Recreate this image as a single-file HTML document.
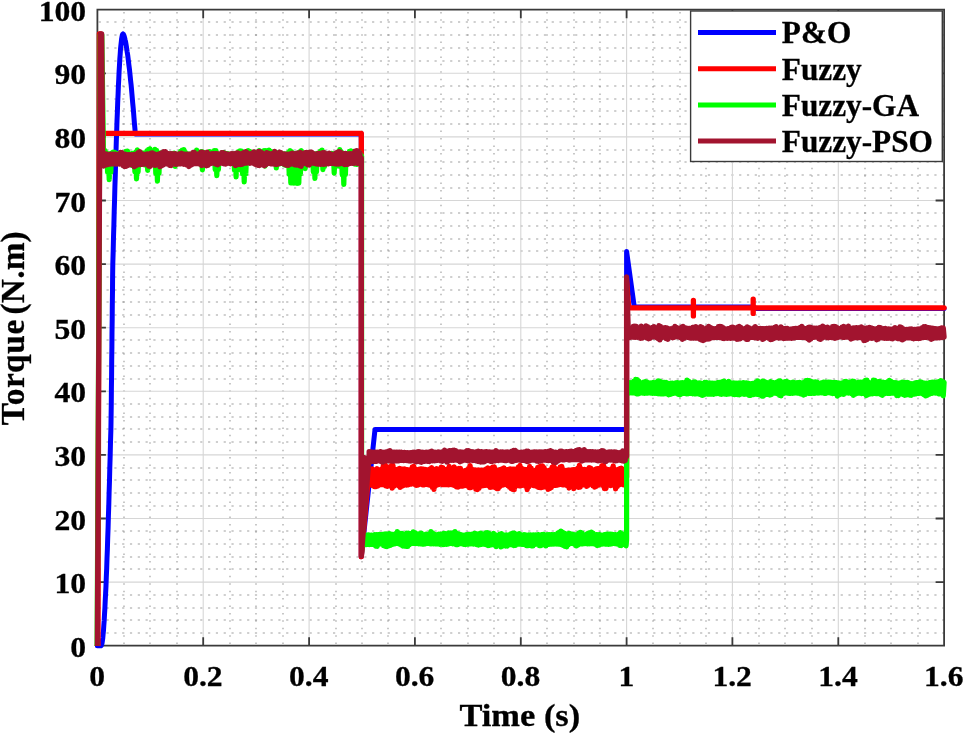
<!DOCTYPE html>
<html lang="en"><head><meta charset="utf-8"><title>Torque</title>
<style>
html,body{margin:0;padding:0;background:#fff;}
body{width:963px;height:733px;overflow:hidden;}
svg{display:block;}
text{font-family:"Liberation Serif","Times New Roman",serif;font-weight:bold;fill:#000;stroke:#000;stroke-width:0.3px;}
.tk{font-size:30.3px;}
.lg{font-size:30.8px;}
.lb{font-size:32.3px;}
.yl{font-size:33.4px;word-spacing:-3.9px;}
</style></head><body>
<svg width="963" height="733" viewBox="0 0 963 733">
<rect width="963" height="733" fill="#fff"/>
<path d="M124,9.7V645.7M150,9.7V645.7M177,9.7V645.7M230,9.7V645.7M256,9.7V645.7M283,9.7V645.7M336,9.7V645.7M362,9.7V645.7M388,9.7V645.7M441,9.7V645.7M468,9.7V645.7M494,9.7V645.7M547,9.7V645.7M574,9.7V645.7M600,9.7V645.7M653,9.7V645.7M680,9.7V645.7M706,9.7V645.7M759,9.7V645.7M785,9.7V645.7M812,9.7V645.7M865,9.7V645.7M891,9.7V645.7M918,9.7V645.7" stroke="#606060" stroke-width="1.15" stroke-dasharray="1.5 5.92" stroke-dashoffset="-2.2" fill="none" opacity="0.6"/>
<path d="M97.4,633H944.1M97.4,620H944.1M97.4,608H944.1M97.4,595H944.1M97.4,569H944.1M97.4,557H944.1M97.4,544H944.1M97.4,531H944.1M97.4,506H944.1M97.4,493H944.1M97.4,480H944.1M97.4,468H944.1M97.4,442H944.1M97.4,429H944.1M97.4,417H944.1M97.4,404H944.1M97.4,379H944.1M97.4,366H944.1M97.4,353H944.1M97.4,340H944.1M97.4,315H944.1M97.4,302H944.1M97.4,290H944.1M97.4,277H944.1M97.4,251H944.1M97.4,239H944.1M97.4,226H944.1M97.4,213H944.1M97.4,188H944.1M97.4,175H944.1M97.4,162H944.1M97.4,150H944.1M97.4,124H944.1M97.4,111H944.1M97.4,99H944.1M97.4,86H944.1M97.4,61H944.1M97.4,48H944.1M97.4,35H944.1M97.4,22H944.1" stroke="#606060" stroke-width="1.15" stroke-dasharray="2.2 5.61" stroke-dashoffset="-1.3" fill="none" opacity="0.6"/>
<path d="M203.2,9.7V645.7M309.1,9.7V645.7M414.9,9.7V645.7M520.8,9.7V645.7M626.6,9.7V645.7M732.4,9.7V645.7M838.3,9.7V645.7M97.4,582.1H944.1M97.4,518.5H944.1M97.4,454.9H944.1M97.4,391.3H944.1M97.4,327.7H944.1M97.4,264.1H944.1M97.4,200.5H944.1M97.4,136.9H944.1M97.4,73.3H944.1" stroke="#d6d6d6" stroke-width="1.1" fill="none"/>
<path d="M97.4,9.7H944.1V645.7H97.4ZM97.4,645.7v-8.5M97.4,9.7v8.5M203.2,645.7v-8.5M203.2,9.7v8.5M309.1,645.7v-8.5M309.1,9.7v8.5M414.9,645.7v-8.5M414.9,9.7v8.5M520.8,645.7v-8.5M520.8,9.7v8.5M626.6,645.7v-8.5M626.6,9.7v8.5M732.4,645.7v-8.5M732.4,9.7v8.5M838.3,645.7v-8.5M838.3,9.7v8.5M944.1,645.7v-8.5M944.1,9.7v8.5M97.4,645.7h8.5M944.1,645.7h-8.5M97.4,582.1h8.5M944.1,582.1h-8.5M97.4,518.5h8.5M944.1,518.5h-8.5M97.4,454.9h8.5M944.1,454.9h-8.5M97.4,391.3h8.5M944.1,391.3h-8.5M97.4,327.7h8.5M944.1,327.7h-8.5M97.4,264.1h8.5M944.1,264.1h-8.5M97.4,200.5h8.5M944.1,200.5h-8.5M97.4,136.9h8.5M944.1,136.9h-8.5M97.4,73.3h8.5M944.1,73.3h-8.5M97.4,9.7h8.5M944.1,9.7h-8.5" stroke="#3a3a3a" stroke-width="1.8" fill="none"/>
<polyline fill="none" stroke="#0000ff" stroke-width="5.0" stroke-linejoin="round" stroke-linecap="round" points="97.4,645.7 101.0,645.7 101.4,645.4 101.7,644.4 102.1,642.9 102.4,640.6 102.8,637.8 103.1,634.4 103.5,630.3 103.8,625.6 104.2,620.4 104.5,614.5 104.9,608.1 105.2,601.2 105.6,593.7 106.0,585.6 106.3,577.1 106.7,568.1 107.0,558.5 107.4,548.6 107.7,538.2 108.1,527.4 108.4,516.2 108.8,504.6 109.1,492.7 109.5,480.5 109.8,468.0 110.2,455.2 110.5,442.2 110.9,429.0 111.1,415.6 111.3,402.0 111.4,388.3 111.6,374.5 111.7,360.7 111.9,346.7 112.0,332.8 112.2,318.9 112.3,305.0 112.5,291.2 112.6,277.5 112.8,264.0 113.2,250.6 113.5,237.3 113.9,224.3 114.2,211.6 114.6,199.0 114.9,186.8 115.3,174.9 115.6,163.4 116.0,152.2 116.3,141.4 116.7,131.0 117.0,121.0 117.4,111.5 117.7,102.5 118.1,93.9 118.4,85.9 118.8,78.4 119.1,71.4 119.5,65.0 119.8,59.2 120.2,53.9 120.5,49.3 120.9,45.2 121.3,41.8 121.6,38.9 122.0,36.7 122.3,35.1 122.7,34.2 123.0,33.9 123.4,34.3 123.9,35.3 124.3,36.5 124.7,38.1 125.1,39.9 125.6,41.9 126.0,44.2 126.4,46.6 126.8,49.3 127.2,52.1 127.7,55.1 128.1,58.3 128.5,61.6 128.9,65.1 129.4,68.8 129.8,72.5 130.2,76.5 130.6,80.6 131.1,84.8 131.5,89.1 131.9,93.6 132.3,98.3 132.7,103.0 133.2,107.9 133.6,112.9 134.0,118.0 134.4,123.2 134.9,128.6 135.3,134.0 361.3,134.0 361.3,556.7 375.0,429.5 626.6,429.5 626.6,251.4 634.3,307.1 753.6,307.1 756.2,308.4 944.1,308.4"/>
<clipPath id="cb"><rect x="0" y="0" width="963" height="646"/></clipPath><g clip-path="url(#cb)">
<polyline fill="none" stroke="#ff0000" stroke-width="5.3" stroke-linejoin="round" stroke-linecap="round" points="97.4,645.7 98.0,645.7 99.4,33.9 100.6,33.9 102.2,133.4 361.3,133.4 361.3,556.7 368.9,470.8 368.9,469.3 369.7,485.2 370.5,469.2 371.3,483.8 372.1,469.0 372.9,485.5 373.7,469.9 374.5,486.7 375.3,469.7 376.1,486.6 376.9,468.7 377.7,486.1 378.5,469.9 379.3,485.0 380.1,469.9 380.9,484.6 381.7,468.9 382.5,484.5 383.3,465.7 384.1,484.6 384.9,464.4 385.8,485.8 386.6,466.3 387.4,486.4 388.2,468.4 389.0,485.3 389.8,469.1 390.6,486.0 391.4,465.5 392.2,488.2 393.0,465.5 393.8,486.3 394.6,469.5 395.4,484.9 396.2,469.7 397.0,484.5 397.8,469.1 398.6,485.9 399.4,468.5 400.2,487.4 401.0,468.9 401.8,486.4 402.6,469.3 403.4,485.7 404.2,469.0 405.0,484.8 405.8,469.3 406.6,485.0 407.5,469.6 408.3,484.8 409.1,470.1 409.9,484.1 410.7,469.7 411.5,484.0 412.3,466.8 413.1,483.7 413.9,466.5 414.7,484.4 415.5,469.8 416.3,485.4 417.1,469.7 417.9,485.1 418.7,469.5 419.5,484.1 420.3,468.8 421.1,484.0 421.9,469.0 422.7,484.8 423.5,469.1 424.3,484.9 425.1,469.5 425.9,484.3 426.7,470.0 427.5,484.5 428.3,469.8 429.2,485.0 430.0,468.8 430.8,485.2 431.6,467.7 432.4,487.4 433.2,469.4 434.0,489.4 434.8,469.3 435.6,486.0 436.4,468.7 437.2,484.5 438.0,469.2 438.8,484.5 439.6,469.0 440.4,484.2 441.2,467.1 442.0,484.5 442.8,467.7 443.6,484.6 444.4,469.2 445.2,484.5 446.0,469.7 446.8,484.7 447.6,468.9 448.4,484.9 449.2,466.4 450.0,484.6 450.9,468.6 451.7,484.4 452.5,469.8 453.3,485.1 454.1,466.9 454.9,485.6 455.7,468.3 456.5,486.9 457.3,470.2 458.1,487.2 458.9,468.5 459.7,486.0 460.5,468.3 461.3,486.2 462.1,471.1 462.9,486.2 463.7,471.1 464.5,485.6 465.3,470.5 466.1,485.2 466.9,470.3 467.7,486.1 468.5,468.4 469.3,487.7 470.1,465.7 470.9,487.7 471.7,468.8 472.6,485.0 473.4,470.7 474.2,487.1 475.0,469.8 475.8,489.2 476.6,470.1 477.4,489.7 478.2,469.8 479.0,488.4 479.8,470.1 480.6,486.0 481.4,470.1 482.2,485.8 483.0,470.3 483.8,485.7 484.6,469.9 485.4,485.3 486.2,468.8 487.0,485.1 487.8,467.9 488.6,485.9 489.4,468.6 490.2,487.3 491.0,470.2 491.8,487.2 492.6,467.1 493.4,485.6 494.3,466.9 495.1,487.5 495.9,469.9 496.7,488.5 497.5,470.7 498.3,488.7 499.1,469.8 499.9,486.7 500.7,469.4 501.5,484.6 502.3,468.7 503.1,485.0 503.9,468.0 504.7,484.6 505.5,469.5 506.3,484.1 507.1,469.9 507.9,485.6 508.7,469.4 509.5,487.2 510.3,469.0 511.1,488.5 511.9,469.1 512.7,489.4 513.5,469.1 514.3,489.7 515.1,469.1 516.0,486.2 516.8,469.3 517.6,485.1 518.4,466.9 519.2,485.9 520.0,465.5 520.8,485.9 521.6,468.2 522.4,485.4 523.2,469.3 524.0,484.5 524.8,469.5 525.6,486.1 526.4,469.6 527.2,489.6 528.0,469.1 528.8,486.8 529.6,466.5 530.4,485.0 531.2,468.1 532.0,484.5 532.8,470.7 533.6,485.5 534.4,471.0 535.2,485.6 536.0,469.9 536.8,486.4 537.7,467.5 538.5,487.3 539.3,466.7 540.1,487.6 540.9,466.1 541.7,487.6 542.5,465.9 543.3,487.2 544.1,467.7 544.9,485.9 545.7,470.1 546.5,487.0 547.3,470.8 548.1,489.3 548.9,470.5 549.7,488.6 550.5,469.7 551.3,487.6 552.1,467.1 552.9,485.8 553.7,465.7 554.5,485.3 555.3,468.5 556.1,485.4 556.9,469.7 557.7,485.2 558.5,469.6 559.4,484.7 560.2,466.8 561.0,484.1 561.8,466.4 562.6,484.8 563.4,469.6 564.2,484.8 565.0,470.3 565.8,484.5 566.6,470.3 567.4,485.9 568.2,470.1 569.0,488.0 569.8,470.1 570.6,486.1 571.4,469.8 572.2,486.0 573.0,469.6 573.8,488.6 574.6,469.6 575.4,486.6 576.2,469.9 577.0,485.2 577.8,468.2 578.6,487.3 579.4,465.4 580.2,487.2 581.1,468.6 581.9,485.1 582.7,469.8 583.5,484.8 584.3,469.3 585.1,485.0 585.9,469.7 586.7,486.4 587.5,469.6 588.3,485.4 589.1,467.6 589.9,484.1 590.7,468.2 591.5,484.2 592.3,470.0 593.1,485.8 593.9,470.0 594.7,487.2 595.5,469.2 596.3,486.4 597.1,468.6 597.9,485.4 598.7,468.7 599.5,484.1 600.3,468.8 601.1,484.4 601.9,465.6 602.8,485.3 603.6,465.4 604.4,488.5 605.2,468.4 606.0,488.5 606.8,469.2 607.6,484.8 608.4,469.7 609.2,484.8 610.0,470.0 610.8,485.6 611.6,468.6 612.4,484.3 613.2,465.8 614.0,485.5 614.8,469.3 615.6,488.8 616.4,470.4 617.2,486.7 618.0,469.4 618.8,485.1 619.6,468.7 620.4,484.4 621.2,468.1 622.0,484.1 622.8,469.1 623.6,484.9 624.5,470.0 625.3,484.3 626.1,471.0 626.6,477.2 626.6,280.0 628.7,307.8 693.4,307.8 693.4,300.4 693.4,315.9 693.4,307.8 753.2,307.8 753.2,299.1 753.2,313.4 753.2,307.8 944.1,307.8"/>
<polyline fill="none" stroke="#00ff00" stroke-width="5.2" stroke-linejoin="round" stroke-linecap="round" points="97.1,645.7 100.2,35.1 101.8,35.1 103.5,156.0 103.5,148.1 104.3,161.2 105.1,150.7 105.9,161.1 106.8,153.0 107.6,172.5 108.4,154.1 109.2,179.7 110.0,153.9 110.8,172.5 111.6,153.2 112.4,163.7 113.2,152.1 114.0,161.4 114.8,152.3 115.6,161.8 116.4,153.3 117.2,161.9 118.0,153.7 118.8,162.3 119.6,153.6 120.4,161.6 121.2,152.6 122.0,161.3 122.8,153.5 123.6,162.7 124.4,154.2 125.2,162.4 126.0,151.4 126.8,161.6 127.6,151.1 128.4,162.1 129.3,154.3 130.1,163.2 130.9,153.9 131.7,165.3 132.5,153.4 133.3,165.4 134.1,153.5 134.9,171.8 135.7,152.2 136.5,179.0 137.3,149.8 138.1,171.8 138.9,152.8 139.7,161.8 140.5,153.8 141.3,161.4 142.1,152.8 142.9,161.9 143.7,153.2 144.5,165.0 145.3,153.4 146.1,165.1 146.9,150.9 147.7,170.4 148.5,149.3 149.3,162.5 150.1,148.9 150.9,161.5 151.8,152.0 152.6,161.2 153.4,152.9 154.2,161.6 155.0,149.4 155.8,173.5 156.6,150.3 157.4,181.1 158.2,153.2 159.0,173.5 159.8,153.1 160.6,161.6 161.4,152.9 162.2,161.8 163.0,153.0 163.8,161.9 164.6,153.6 165.4,161.0 166.2,154.1 167.0,161.0 167.8,153.8 168.6,161.1 169.4,153.9 170.2,161.5 171.0,153.8 171.8,161.7 172.6,153.5 173.4,161.7 174.2,153.2 175.1,166.4 175.9,154.4 176.7,161.8 177.5,154.3 178.3,161.9 179.1,153.7 179.9,161.9 180.7,151.3 181.5,161.6 182.3,150.1 183.1,161.6 183.9,149.5 184.7,161.8 185.5,152.3 186.3,161.8 187.1,154.5 187.9,163.3 188.7,154.1 189.5,164.4 190.3,154.0 191.1,162.6 191.9,154.5 192.7,161.6 193.5,153.7 194.3,161.5 195.1,152.4 195.9,162.5 196.7,150.0 197.6,162.9 198.4,152.1 199.2,163.6 200.0,154.1 200.8,164.4 201.6,151.6 202.4,169.8 203.2,152.0 204.0,165.3 204.8,153.6 205.6,164.1 206.4,154.0 207.2,161.7 208.0,153.5 208.8,162.3 209.6,151.5 210.4,162.8 211.2,152.1 212.0,161.9 212.8,153.2 213.6,162.1 214.4,150.6 215.2,169.7 216.0,150.7 216.8,175.6 217.6,153.8 218.4,169.7 219.2,154.5 220.1,161.8 220.9,154.2 221.7,161.9 222.5,152.7 223.3,161.8 224.1,152.6 224.9,162.2 225.7,153.4 226.5,162.5 227.3,153.7 228.1,162.8 228.9,154.2 229.7,162.6 230.5,154.8 231.3,163.0 232.1,154.3 232.9,163.9 233.7,153.9 234.5,170.4 235.3,153.9 236.1,176.8 236.9,153.2 237.7,170.4 238.5,151.7 239.3,162.1 240.1,150.9 240.9,161.7 241.7,151.2 242.6,173.9 243.4,153.4 244.2,182.0 245.0,154.0 245.8,173.9 246.6,153.8 247.4,161.7 248.2,150.7 249.0,161.8 249.8,151.3 250.6,162.2 251.4,154.7 252.2,162.4 253.0,153.0 253.8,162.4 254.6,152.2 255.4,162.2 256.2,154.3 257.0,162.1 257.8,153.2 258.6,162.6 259.4,150.5 260.2,162.4 261.0,152.2 261.8,162.0 262.6,152.7 263.4,162.1 264.2,150.6 265.0,166.2 265.9,150.5 266.7,161.3 267.5,151.4 268.3,161.9 269.1,150.0 269.9,162.8 270.7,151.4 271.5,161.9 272.3,154.2 273.1,161.7 273.9,152.8 274.7,162.4 275.5,152.1 276.3,168.0 277.1,152.8 277.9,163.8 278.7,153.8 279.5,164.0 280.3,154.1 281.1,163.2 281.9,154.2 282.7,162.3 283.5,153.9 284.3,164.9 285.1,154.1 285.9,165.4 286.7,153.8 287.5,162.1 288.4,152.6 289.2,174.2 290.0,150.5 290.8,183.0 291.6,151.7 292.4,183.0 293.2,154.4 294.0,183.1 294.8,153.5 295.6,182.8 296.4,153.4 297.2,183.4 298.0,153.5 298.8,183.2 299.6,151.8 300.4,174.2 301.2,150.6 302.0,161.0 302.8,152.5 303.6,161.0 304.4,153.4 305.2,168.6 306.0,154.3 306.8,161.5 307.6,152.9 308.4,162.9 309.2,152.4 310.0,162.1 310.9,153.5 311.7,161.6 312.5,153.7 313.3,171.8 314.1,154.0 314.9,178.5 315.7,153.9 316.5,171.8 317.3,153.4 318.1,162.0 318.9,153.4 319.7,161.4 320.5,151.2 321.3,161.4 322.1,150.2 322.9,169.6 323.7,152.6 324.5,166.5 325.3,153.8 326.1,163.3 326.9,154.4 327.7,161.5 328.5,154.2 329.3,161.4 330.1,153.8 330.9,161.7 331.7,153.3 332.5,162.0 333.4,153.8 334.2,173.1 335.0,154.1 335.8,163.6 336.6,153.9 337.4,165.8 338.2,152.3 339.0,166.1 339.8,149.7 340.6,165.0 341.4,151.8 342.2,174.6 343.0,153.3 343.8,184.5 344.6,154.1 345.4,174.6 346.2,154.2 347.0,162.0 347.8,153.9 348.6,161.6 349.4,151.4 350.2,161.4 351.0,150.8 351.8,162.1 352.6,152.3 353.4,162.8 354.2,153.3 355.0,164.2 355.8,153.2 356.7,164.5 357.5,151.4 358.3,163.9 359.1,152.1 359.9,162.8 360.7,154.5 361.6,156.0 361.6,551.6 361.6,539.5 363.6,535.0 364.4,544.6 365.2,535.0 366.0,544.7 366.8,535.1 367.6,544.4 368.4,534.8 369.2,544.6 370.0,535.0 370.8,544.5 371.6,535.1 372.4,544.5 373.2,535.0 374.0,544.2 374.8,534.7 375.6,546.1 376.4,534.7 377.2,546.4 378.0,534.7 378.8,544.3 379.6,534.4 380.4,543.8 381.2,534.7 382.0,544.3 382.8,534.3 383.6,545.7 384.5,534.1 385.3,546.4 386.1,533.9 386.9,546.7 387.7,534.1 388.5,546.0 389.3,533.7 390.1,545.5 390.9,534.0 391.7,544.7 392.5,534.4 393.3,544.1 394.1,534.4 394.9,543.8 395.7,533.5 396.5,543.5 397.3,531.7 398.1,543.4 398.9,532.9 399.7,544.2 400.5,534.0 401.3,545.1 402.1,533.4 402.9,546.1 403.7,534.1 404.5,546.2 405.3,534.6 406.1,546.3 406.9,533.0 407.7,546.5 408.5,533.2 409.3,544.8 410.1,534.6 410.9,543.7 411.7,533.3 412.5,543.4 413.3,531.8 414.2,543.5 415.0,532.6 415.8,543.6 416.6,533.6 417.4,543.5 418.2,534.7 419.0,543.9 419.8,533.5 420.6,543.9 421.4,533.1 422.2,544.1 423.0,534.6 423.8,544.2 424.6,534.7 425.4,543.8 426.2,534.1 427.0,543.3 427.8,534.7 428.6,543.4 429.4,533.8 430.2,543.9 431.0,531.5 431.8,543.9 432.6,532.8 433.4,543.8 434.2,534.0 435.0,543.8 435.8,534.7 436.6,544.0 437.4,534.5 438.2,544.0 439.0,534.0 439.8,544.3 440.6,534.2 441.4,544.2 442.2,534.0 443.0,544.6 443.8,533.4 444.7,544.4 445.5,533.5 446.3,544.3 447.1,533.7 447.9,544.1 448.7,532.9 449.5,543.6 450.3,533.0 451.1,543.4 451.9,534.3 452.7,543.8 453.5,532.6 454.3,543.9 455.1,531.7 455.9,544.6 456.7,533.0 457.5,544.7 458.3,533.8 459.1,544.0 459.9,534.4 460.7,543.7 461.5,534.8 462.3,543.9 463.1,535.3 463.9,544.4 464.7,535.1 465.5,544.6 466.3,534.6 467.1,544.2 467.9,534.5 468.7,544.1 469.5,534.4 470.3,543.8 471.1,534.4 471.9,543.9 472.7,534.0 473.5,544.1 474.4,533.4 475.2,543.9 476.0,533.5 476.8,544.7 477.6,534.7 478.4,545.1 479.2,533.7 480.0,544.7 480.8,533.0 481.6,544.4 482.4,534.1 483.2,544.2 484.0,534.0 484.8,544.3 485.6,532.9 486.4,544.9 487.2,532.5 488.0,545.7 488.8,533.0 489.6,545.4 490.4,534.8 491.2,545.0 492.0,534.5 492.8,544.3 493.6,533.3 494.4,545.0 495.2,534.8 496.0,546.7 496.8,535.2 497.6,545.3 498.4,535.0 499.2,545.1 500.0,534.0 500.8,547.0 501.6,533.6 502.4,546.2 503.2,534.8 504.1,545.2 504.9,535.2 505.7,546.1 506.5,534.8 507.3,546.1 508.1,535.0 508.9,544.9 509.7,534.6 510.5,544.5 511.3,533.7 512.1,545.0 512.9,533.1 513.7,545.6 514.5,533.0 515.3,545.5 516.1,534.3 516.9,544.5 517.7,534.6 518.5,544.2 519.3,533.6 520.1,544.1 520.9,534.5 521.7,544.3 522.5,535.1 523.3,544.5 524.1,534.6 524.9,544.6 525.7,534.8 526.5,545.7 527.3,535.7 528.1,545.6 528.9,534.9 529.7,545.0 530.5,534.9 531.3,545.8 532.1,535.1 532.9,546.0 533.7,534.9 534.6,544.6 535.4,534.8 536.2,544.1 537.0,534.8 537.8,544.4 538.6,534.7 539.4,545.7 540.2,535.3 541.0,545.6 541.8,534.5 542.6,544.5 543.4,534.4 544.2,544.8 545.0,534.8 545.8,546.0 546.6,534.8 547.4,544.6 548.2,534.5 549.0,544.4 549.8,534.7 550.6,544.2 551.4,534.7 552.2,544.1 553.0,534.7 553.8,544.1 554.6,534.7 555.4,544.0 556.2,534.5 557.0,544.1 557.8,533.0 558.6,544.1 559.4,532.1 560.2,544.3 561.0,531.0 561.8,544.9 562.6,532.1 563.4,545.6 564.3,533.0 565.1,546.5 565.9,534.0 566.7,546.8 567.5,533.8 568.3,544.9 569.1,533.4 569.9,543.7 570.7,533.9 571.5,543.5 572.3,534.2 573.1,543.5 573.9,534.7 574.7,544.5 575.5,534.8 576.3,546.0 577.1,534.5 577.9,545.2 578.7,533.0 579.5,543.6 580.3,532.4 581.1,544.0 581.9,532.9 582.7,544.0 583.5,534.5 584.3,543.6 585.1,534.9 585.9,543.6 586.7,534.1 587.5,543.8 588.3,533.1 589.1,543.8 589.9,532.5 590.7,543.7 591.5,532.1 592.3,543.7 593.1,533.0 594.0,543.9 594.8,535.2 595.6,544.4 596.4,534.7 597.2,545.6 598.0,534.5 598.8,545.1 599.6,534.6 600.4,544.5 601.2,535.0 602.0,544.2 602.8,535.1 603.6,543.9 604.4,534.5 605.2,544.1 606.0,534.3 606.8,544.2 607.6,534.2 608.4,544.3 609.2,534.2 610.0,544.2 610.8,534.2 611.6,544.0 612.4,534.3 613.2,543.5 614.0,534.6 614.8,543.6 615.6,534.6 616.4,544.0 617.2,534.9 618.0,544.0 618.8,534.2 619.6,545.3 620.4,532.5 621.2,545.6 622.0,533.5 622.8,544.2 623.7,535.1 624.5,544.6 625.3,534.4 626.1,545.8 626.6,539.5 626.6,387.5 627.6,382.4 628.4,393.4 629.3,382.7 630.1,392.8 630.9,382.7 631.7,392.9 632.5,383.3 633.3,393.0 634.1,381.1 634.9,393.2 635.7,379.4 636.5,393.8 637.3,379.7 638.1,394.0 638.9,381.0 639.7,393.4 640.5,382.9 641.3,393.0 642.1,382.8 642.9,393.2 643.7,382.0 644.5,393.3 645.3,381.6 646.1,393.2 646.9,381.9 647.7,393.2 648.5,382.8 649.3,393.0 650.1,382.9 650.9,393.2 651.7,382.8 652.5,393.3 653.3,382.4 654.2,393.3 655.0,382.5 655.8,393.3 656.6,382.1 657.4,393.6 658.2,380.8 659.0,393.8 659.8,381.1 660.6,393.9 661.4,382.3 662.2,394.0 663.0,382.3 663.8,394.0 664.6,382.3 665.4,393.7 666.2,382.4 667.0,393.4 667.8,383.0 668.6,394.8 669.4,383.5 670.2,394.5 671.0,383.1 671.8,393.8 672.6,383.1 673.4,393.5 674.2,383.4 675.0,393.2 675.8,382.9 676.6,393.4 677.4,382.7 678.2,394.3 679.0,383.1 679.9,394.9 680.7,382.8 681.5,394.0 682.3,382.6 683.1,393.5 683.9,383.0 684.7,393.5 685.5,382.1 686.3,393.9 687.1,380.2 687.9,393.8 688.7,381.2 689.5,393.3 690.3,382.8 691.1,393.5 691.9,382.6 692.7,393.8 693.5,382.2 694.3,393.9 695.1,381.8 695.9,394.0 696.7,382.8 697.5,393.7 698.3,383.2 699.1,394.2 699.9,382.9 700.7,394.7 701.5,383.4 702.3,395.5 703.1,383.6 703.9,394.8 704.8,382.4 705.6,393.8 706.4,382.3 707.2,394.2 708.0,383.2 708.8,394.2 709.6,382.8 710.4,394.2 711.2,383.0 712.0,394.1 712.8,383.1 713.6,394.3 714.4,383.4 715.2,393.7 716.0,383.1 716.8,393.7 717.6,382.7 718.4,393.5 719.2,382.4 720.0,394.1 720.8,382.9 721.6,394.3 722.4,381.6 723.2,393.9 724.0,381.2 724.8,394.1 725.6,383.1 726.4,394.4 727.2,382.4 728.0,394.2 728.8,381.3 729.7,394.0 730.5,382.7 731.3,393.6 732.1,383.6 732.9,394.4 733.7,382.9 734.5,394.7 735.3,383.1 736.1,394.2 736.9,383.1 737.7,394.6 738.5,383.0 739.3,394.8 740.1,382.9 740.9,394.1 741.7,383.1 742.5,393.8 743.3,382.7 744.1,394.4 744.9,382.9 745.7,394.2 746.5,382.8 747.3,393.9 748.1,383.0 748.9,395.3 749.7,383.5 750.5,395.5 751.3,383.7 752.1,394.6 752.9,383.4 753.7,394.6 754.5,383.0 755.4,394.2 756.2,381.8 757.0,394.3 757.8,380.9 758.6,394.7 759.4,382.8 760.2,395.2 761.0,382.2 761.8,396.2 762.6,381.1 763.4,396.1 764.2,381.4 765.0,394.5 765.8,382.1 766.6,394.3 767.4,382.9 768.2,394.5 769.0,382.5 769.8,395.2 770.6,381.6 771.4,394.6 772.2,382.4 773.0,393.3 773.8,382.6 774.6,393.2 775.4,383.2 776.2,393.5 777.0,382.1 777.8,394.0 778.6,381.2 779.4,395.4 780.3,380.9 781.1,395.9 781.9,382.0 782.7,394.0 783.5,383.1 784.3,393.2 785.1,381.6 785.9,392.6 786.7,381.4 787.5,393.2 788.3,382.2 789.1,393.5 789.9,382.7 790.7,393.4 791.5,382.6 792.3,393.4 793.1,382.2 793.9,393.2 794.7,382.5 795.5,392.9 796.3,382.9 797.1,393.1 797.9,382.5 798.7,393.2 799.5,382.4 800.3,393.8 801.1,382.8 801.9,394.2 802.7,382.8 803.5,395.1 804.3,382.1 805.1,394.5 806.0,380.6 806.8,393.3 807.6,380.3 808.4,393.4 809.2,380.6 810.0,393.5 810.8,381.3 811.6,393.3 812.4,381.9 813.2,393.3 814.0,382.2 814.8,393.4 815.6,381.9 816.4,393.0 817.2,382.1 818.0,393.1 818.8,383.0 819.6,392.8 820.4,383.1 821.2,392.9 822.0,382.6 822.8,392.8 823.6,382.2 824.4,393.5 825.2,382.1 826.0,393.3 826.8,382.3 827.6,392.6 828.4,382.1 829.2,392.7 830.0,382.0 830.9,393.2 831.7,382.3 832.5,393.6 833.3,382.6 834.1,393.5 834.9,382.3 835.7,393.8 836.5,382.6 837.3,396.2 838.1,382.9 838.9,395.0 839.7,383.1 840.5,393.1 841.3,383.1 842.1,394.1 842.9,382.9 843.7,394.4 844.5,381.5 845.3,392.8 846.1,381.3 846.9,393.0 847.7,382.1 848.5,393.1 849.3,382.2 850.1,393.0 850.9,382.3 851.7,393.8 852.5,381.2 853.3,395.4 854.1,381.4 854.9,394.4 855.7,383.0 856.6,393.6 857.4,382.6 858.2,393.1 859.0,382.1 859.8,393.2 860.6,382.1 861.4,393.6 862.2,382.2 863.0,392.8 863.8,381.8 864.6,393.9 865.4,380.4 866.2,395.6 867.0,380.2 867.8,394.8 868.6,382.2 869.4,394.0 870.2,382.9 871.0,393.8 871.8,382.6 872.6,393.8 873.4,380.0 874.2,393.5 875.0,380.3 875.8,393.7 876.6,382.9 877.4,393.7 878.2,381.6 879.0,393.0 879.8,381.4 880.6,394.5 881.5,382.1 882.3,395.4 883.1,382.2 883.9,394.1 884.7,382.5 885.5,393.3 886.3,382.3 887.1,393.3 887.9,381.5 888.7,393.5 889.5,380.3 890.3,393.5 891.1,381.4 891.9,393.2 892.7,382.4 893.5,393.2 894.3,382.6 895.1,393.4 895.9,382.6 896.7,395.6 897.5,383.1 898.3,395.6 899.1,383.0 899.9,393.2 900.7,382.8 901.5,394.0 902.3,382.2 903.1,394.7 903.9,382.4 904.7,395.4 905.5,382.5 906.4,394.8 907.2,382.4 908.0,393.6 908.8,382.9 909.6,395.1 910.4,383.6 911.2,395.3 912.0,383.6 912.8,394.2 913.6,383.5 914.4,394.2 915.2,382.9 916.0,393.8 916.8,382.7 917.6,393.5 918.4,382.4 919.2,393.3 920.0,381.8 920.8,393.1 921.6,382.0 922.4,393.8 923.2,382.9 924.0,394.7 924.8,383.1 925.6,396.0 926.4,383.2 927.2,395.4 928.0,383.2 928.8,394.5 929.6,382.6 930.4,393.7 931.2,382.3 932.1,393.4 932.9,382.0 933.7,393.0 934.5,382.1 935.3,393.1 936.1,382.4 936.9,393.1 937.7,381.8 938.5,393.9 939.3,381.3 940.1,394.0 940.9,380.5 941.7,393.5 942.5,381.4 943.3,395.8 944.1,382.3"/>
<polyline fill="none" stroke="#a2142f" stroke-width="5.2" stroke-linejoin="round" stroke-linecap="round" points="97.3,645.7 100.3,33.9 101.7,33.9 102.8,157.9 102.8,154.3 103.6,166.1 104.4,154.0 105.2,165.4 106.0,153.9 106.8,164.9 107.6,154.4 108.4,164.5 109.2,154.3 110.0,164.2 110.8,154.0 111.6,163.8 112.4,154.0 113.2,164.0 114.0,154.2 114.8,163.9 115.7,154.1 116.5,164.1 117.3,154.6 118.1,164.0 118.9,154.2 119.7,164.2 120.5,152.3 121.3,164.1 122.1,152.6 122.9,165.7 123.7,154.0 124.5,166.6 125.3,154.2 126.1,166.3 126.9,154.6 127.7,165.6 128.5,154.5 129.3,164.8 130.1,154.7 130.9,164.5 131.7,154.8 132.5,165.2 133.3,154.6 134.1,166.9 134.9,154.3 135.7,166.0 136.5,154.2 137.3,165.0 138.1,152.5 138.9,164.6 139.8,151.5 140.6,164.6 141.4,153.4 142.2,164.5 143.0,154.2 143.8,164.2 144.6,154.6 145.4,164.2 146.2,154.2 147.0,164.4 147.8,153.9 148.6,166.1 149.4,153.9 150.2,166.4 151.0,153.2 151.8,164.8 152.6,152.9 153.4,165.0 154.2,153.8 155.0,165.5 155.8,154.3 156.6,164.3 157.4,154.4 158.2,164.2 159.0,153.9 159.8,166.8 160.6,153.4 161.4,166.0 162.2,152.6 163.0,165.2 163.9,151.7 164.7,164.1 165.5,151.5 166.3,164.0 167.1,153.1 167.9,164.0 168.7,153.9 169.5,165.4 170.3,153.7 171.1,165.6 171.9,153.7 172.7,164.1 173.5,153.9 174.3,164.1 175.1,153.7 175.9,164.5 176.7,154.2 177.5,164.2 178.3,154.6 179.1,164.0 179.9,153.7 180.7,163.8 181.5,153.0 182.3,163.8 183.1,153.9 183.9,164.3 184.7,154.2 185.5,164.4 186.3,154.1 187.1,165.2 188.0,154.1 188.8,166.6 189.6,154.1 190.4,165.5 191.2,154.1 192.0,164.6 192.8,152.7 193.6,163.9 194.4,152.4 195.2,163.7 196.0,153.9 196.8,163.7 197.6,154.1 198.4,163.7 199.2,153.6 200.0,164.3 200.8,152.1 201.6,165.7 202.4,152.1 203.2,165.0 204.0,153.6 204.8,164.8 205.6,152.8 206.4,165.8 207.2,152.0 208.0,165.4 208.8,153.5 209.6,164.1 210.4,154.0 211.2,163.4 212.1,153.6 212.9,163.1 213.7,153.6 214.5,163.6 215.3,153.5 216.1,164.3 216.9,153.5 217.7,164.9 218.5,153.8 219.3,163.6 220.1,153.8 220.9,163.2 221.7,152.7 222.5,163.4 223.3,152.7 224.1,164.0 224.9,153.4 225.7,164.1 226.5,153.8 227.3,163.1 228.1,154.0 228.9,163.2 229.7,154.0 230.5,163.9 231.3,153.6 232.1,163.5 232.9,153.5 233.7,163.9 234.5,153.5 235.3,165.7 236.2,153.0 237.0,164.9 237.8,152.9 238.6,163.5 239.4,153.5 240.2,164.6 241.0,153.7 241.8,164.5 242.6,153.1 243.4,163.7 244.2,152.3 245.0,163.2 245.8,151.7 246.6,163.1 247.4,152.6 248.2,163.0 249.0,153.7 249.8,163.3 250.6,153.6 251.4,162.9 252.2,153.2 253.0,163.2 253.8,151.8 254.6,164.1 255.4,152.8 256.2,164.8 257.0,153.0 257.8,165.4 258.6,151.4 259.4,165.6 260.3,151.6 261.1,164.5 261.9,152.7 262.7,164.9 263.5,153.6 264.3,165.8 265.1,153.7 265.9,164.9 266.7,152.6 267.5,163.7 268.3,153.2 269.1,163.3 269.9,154.3 270.7,163.8 271.5,153.7 272.3,164.0 273.1,153.1 273.9,164.1 274.7,151.4 275.5,164.3 276.3,153.3 277.1,164.5 277.9,153.5 278.7,163.9 279.5,152.0 280.3,163.4 281.1,152.7 281.9,163.3 282.7,153.8 283.5,164.0 284.4,153.9 285.2,164.8 286.0,154.0 286.8,165.3 287.6,154.2 288.4,165.3 289.2,154.1 290.0,164.5 290.8,153.7 291.6,164.0 292.4,153.2 293.2,163.7 294.0,153.5 294.8,165.0 295.6,153.9 296.4,165.1 297.2,153.2 298.0,164.1 298.8,152.9 299.6,165.8 300.4,152.3 301.2,166.3 302.0,153.1 302.8,163.8 303.6,153.6 304.4,163.2 305.2,152.5 306.0,163.7 306.8,152.4 307.7,165.0 308.5,153.1 309.3,165.1 310.1,152.2 310.9,163.4 311.7,152.1 312.5,163.1 313.3,153.4 314.1,163.5 314.9,154.2 315.7,163.8 316.5,153.9 317.3,164.1 318.1,153.4 318.9,164.2 319.7,153.4 320.5,164.3 321.3,153.2 322.1,164.2 322.9,152.7 323.7,164.3 324.5,152.5 325.3,164.1 326.1,153.5 326.9,163.9 327.7,153.8 328.5,163.9 329.3,153.2 330.1,163.5 330.9,153.8 331.8,163.4 332.6,154.5 333.4,163.5 334.2,154.0 335.0,164.0 335.8,153.0 336.6,164.1 337.4,152.1 338.2,164.2 339.0,151.7 339.8,164.0 340.6,152.2 341.4,163.5 342.2,154.1 343.0,163.7 343.8,153.7 344.6,164.7 345.4,153.4 346.2,164.5 347.0,153.8 347.8,164.3 348.6,153.9 349.4,163.5 350.2,153.7 351.0,163.3 351.8,153.9 352.6,163.4 353.4,153.2 354.2,163.3 355.0,151.0 355.9,162.9 356.7,150.5 357.5,163.7 358.3,151.2 359.1,163.6 359.9,152.9 360.7,162.6 361.4,157.9 361.4,556.0 361.5,553.5 361.6,551.1 361.9,548.6 361.6,546.1 362.3,543.6 361.6,541.1 362.7,538.7 361.6,536.2 363.0,533.7 361.6,531.2 363.4,528.7 361.6,526.3 363.8,523.8 361.6,521.3 364.2,518.8 361.6,516.3 364.5,513.9 361.6,511.4 364.9,508.9 361.6,506.4 365.3,503.9 361.6,501.5 365.6,499.0 361.6,496.5 366.0,494.0 361.6,491.5 366.4,489.1 361.6,486.6 366.8,484.1 361.6,481.6 367.1,479.1 361.6,476.7 367.5,474.2 361.6,471.7 367.9,469.2 361.6,466.7 368.3,464.2 361.6,461.8 368.6,459.3 361.6,456.8 361.5,456.8 361.4,556.0 369.1,456.8 369.1,451.7 369.9,461.2 370.7,451.9 371.5,461.7 372.3,452.2 373.2,461.4 374.0,452.3 374.8,461.3 375.6,452.2 376.4,461.5 377.2,452.1 378.0,461.0 378.8,452.0 379.6,460.4 380.4,451.7 381.2,461.9 382.0,452.0 382.8,462.1 383.6,452.3 384.4,461.1 385.2,452.1 386.0,460.9 386.8,451.9 387.6,461.0 388.4,451.1 389.2,460.9 390.0,450.6 390.8,461.0 391.6,451.9 392.4,461.2 393.2,452.2 394.0,461.2 394.8,452.0 395.6,460.9 396.4,452.1 397.2,460.9 398.0,452.0 398.8,460.8 399.6,452.2 400.4,460.4 401.3,452.2 402.1,460.4 402.9,452.6 403.7,460.6 404.5,452.4 405.3,460.4 406.1,452.5 406.9,460.6 407.7,452.7 408.5,460.8 409.3,452.9 410.1,461.1 410.9,452.6 411.7,461.0 412.5,452.3 413.3,460.7 414.1,452.1 414.9,461.5 415.7,452.5 416.5,461.9 417.3,451.8 418.1,461.2 418.9,451.6 419.7,461.8 420.5,452.0 421.3,462.3 422.1,452.2 422.9,461.6 423.7,452.3 424.5,461.4 425.3,452.3 426.1,460.9 426.9,452.2 427.7,461.5 428.6,452.3 429.4,461.6 430.2,451.6 431.0,460.8 431.8,451.2 432.6,460.8 433.4,452.1 434.2,460.8 435.0,452.2 435.8,460.7 436.6,452.4 437.4,460.4 438.2,451.9 439.0,460.1 439.8,452.0 440.6,460.9 441.4,452.3 442.2,461.3 443.0,451.5 443.8,460.6 444.6,450.2 445.4,461.0 446.2,451.0 447.0,462.2 447.8,451.3 448.6,461.1 449.4,450.7 450.2,460.2 451.0,450.7 451.8,460.4 452.6,450.3 453.4,460.3 454.2,450.0 455.0,460.1 455.8,450.7 456.7,460.1 457.5,451.9 458.3,460.7 459.1,451.9 459.9,461.9 460.7,451.9 461.5,461.2 462.3,452.2 463.1,460.4 463.9,452.0 464.7,460.1 465.5,451.5 466.3,460.4 467.1,450.5 467.9,460.8 468.7,450.7 469.5,460.4 470.3,451.9 471.1,460.2 471.9,451.7 472.7,460.6 473.5,451.9 474.3,460.5 475.1,452.2 475.9,460.8 476.7,451.7 477.5,461.3 478.3,451.2 479.1,461.6 479.9,451.5 480.7,462.1 481.5,451.7 482.3,462.0 483.1,452.0 483.9,462.0 484.8,451.8 485.6,461.1 486.4,451.6 487.2,460.5 488.0,451.8 488.8,460.4 489.6,451.8 490.4,461.4 491.2,452.1 492.0,461.6 492.8,452.0 493.6,460.9 494.4,451.8 495.2,460.8 496.0,450.6 496.8,460.5 497.6,451.5 498.4,460.6 499.2,452.5 500.0,460.2 500.8,451.9 501.6,460.2 502.4,451.9 503.2,460.3 504.0,452.2 504.8,460.6 505.6,452.0 506.4,460.7 507.2,451.9 508.0,460.2 508.8,452.1 509.6,460.2 510.4,451.9 511.2,461.4 512.0,451.1 512.9,461.4 513.7,450.4 514.5,460.7 515.3,450.4 516.1,460.5 516.9,451.7 517.7,460.1 518.5,452.4 519.3,460.1 520.1,452.4 520.9,460.3 521.7,452.0 522.5,460.5 523.3,452.0 524.1,460.5 524.9,451.9 525.7,460.9 526.5,451.1 527.3,461.7 528.1,451.1 528.9,461.2 529.7,452.2 530.5,460.5 531.3,452.4 532.1,460.1 532.9,452.2 533.7,460.1 534.5,451.9 535.3,460.3 536.1,451.9 536.9,461.2 537.7,452.0 538.5,461.5 539.3,451.9 540.2,461.1 541.0,451.8 541.8,460.6 542.6,452.0 543.4,460.2 544.2,451.8 545.0,460.2 545.8,451.6 546.6,460.5 547.4,451.5 548.2,460.7 549.0,451.2 549.8,460.2 550.6,450.6 551.4,460.6 552.2,451.4 553.0,462.0 553.8,452.2 554.6,462.4 555.4,452.2 556.2,462.3 557.0,452.3 557.8,461.1 558.6,452.4 559.4,460.2 560.2,451.1 561.0,459.6 561.8,451.0 562.6,459.8 563.4,452.0 564.2,459.9 565.0,451.9 565.8,459.5 566.6,451.7 567.4,459.7 568.3,451.5 569.1,460.1 569.9,451.3 570.7,459.8 571.5,451.1 572.3,459.7 573.1,451.6 573.9,459.7 574.7,451.4 575.5,459.6 576.3,450.4 577.1,459.7 577.9,449.8 578.7,459.6 579.5,449.5 580.3,460.3 581.1,450.7 581.9,461.1 582.7,450.6 583.5,460.5 584.3,449.7 585.1,460.0 585.9,451.1 586.7,459.9 587.5,452.2 588.3,460.0 589.1,451.7 589.9,460.0 590.7,451.5 591.5,460.1 592.3,451.7 593.1,459.9 593.9,451.9 594.7,460.0 595.5,451.8 596.4,460.4 597.2,452.1 598.0,460.9 598.8,451.8 599.6,460.6 600.4,451.3 601.2,460.4 602.0,450.5 602.8,460.2 603.6,450.8 604.4,461.4 605.2,452.3 606.0,461.6 606.8,452.4 607.6,460.4 608.4,452.0 609.2,460.0 610.0,451.9 610.8,460.1 611.6,451.8 612.4,460.1 613.2,452.1 614.0,460.6 614.8,451.9 615.6,460.9 616.4,452.0 617.2,460.6 618.0,452.5 618.8,460.2 619.6,452.5 620.4,460.4 621.2,452.2 622.0,460.8 622.8,450.9 623.6,461.2 624.5,451.5 625.3,460.5 626.1,452.7 626.6,456.8 626.6,276.8 628.4,332.8 628.4,329.0 629.2,337.7 630.0,328.6 630.8,337.2 631.7,327.9 632.5,337.2 633.3,326.4 634.1,337.4 634.9,326.0 635.7,337.4 636.5,326.3 637.3,337.3 638.1,327.5 638.9,337.3 639.7,327.6 640.5,338.4 641.3,326.2 642.1,338.2 642.9,327.2 643.7,337.1 644.5,327.4 645.3,337.3 646.1,325.8 646.9,338.0 647.7,326.5 648.5,338.9 649.3,327.9 650.1,338.4 650.9,327.9 651.7,336.8 652.5,327.4 653.3,337.0 654.1,326.7 654.9,336.9 655.7,327.6 656.6,337.7 657.4,327.9 658.2,338.9 659.0,325.5 659.8,340.0 660.6,326.4 661.4,338.0 662.2,328.7 663.0,337.2 663.8,327.8 664.6,337.2 665.4,327.5 666.2,338.7 667.0,327.8 667.8,339.3 668.6,328.5 669.4,337.5 670.2,328.8 671.0,337.2 671.8,328.7 672.6,337.8 673.4,327.8 674.2,337.3 675.0,326.4 675.8,336.8 676.6,327.4 677.4,336.9 678.2,328.1 679.0,337.1 679.8,328.3 680.6,337.8 681.5,327.1 682.3,339.4 683.1,326.3 683.9,338.5 684.7,327.7 685.5,337.1 686.3,328.2 687.1,337.3 687.9,328.4 688.7,337.6 689.5,328.3 690.3,338.2 691.1,328.3 691.9,338.1 692.7,327.4 693.5,338.1 694.3,327.0 695.1,338.1 695.9,326.6 696.7,338.2 697.5,327.5 698.3,337.9 699.1,327.5 699.9,339.4 700.7,326.5 701.5,340.1 702.3,327.4 703.1,340.7 703.9,328.5 704.7,339.9 705.5,328.6 706.4,338.8 707.2,327.7 708.0,339.2 708.8,326.3 709.6,338.8 710.4,327.4 711.2,337.8 712.0,328.2 712.8,337.7 713.6,328.8 714.4,337.7 715.2,328.7 716.0,337.4 716.8,328.4 717.6,337.5 718.4,326.6 719.2,337.6 720.0,326.3 720.8,337.7 721.6,326.5 722.4,338.3 723.2,327.6 724.0,338.6 724.8,328.7 725.6,338.2 726.4,329.1 727.2,338.3 728.0,328.6 728.8,338.2 729.6,328.3 730.4,338.3 731.3,327.3 732.1,338.1 732.9,327.2 733.7,338.1 734.5,328.4 735.3,338.4 736.1,327.8 736.9,339.3 737.7,327.0 738.5,339.2 739.3,326.4 740.1,338.8 740.9,327.4 741.7,337.7 742.5,328.6 743.3,337.6 744.1,328.9 744.9,338.2 745.7,328.2 746.5,339.5 747.3,326.8 748.1,339.4 748.9,327.5 749.7,337.7 750.5,328.6 751.3,337.4 752.1,329.2 752.9,337.5 753.7,327.9 754.5,337.8 755.3,326.5 756.1,337.9 757.0,328.1 757.8,338.3 758.6,328.8 759.4,337.7 760.2,328.4 761.0,337.8 761.8,328.5 762.6,339.5 763.4,328.6 764.2,338.6 765.0,328.6 765.8,337.4 766.6,328.3 767.4,337.7 768.2,328.3 769.0,338.5 769.8,328.0 770.6,339.7 771.4,328.0 772.2,339.4 773.0,328.2 773.8,338.6 774.6,327.4 775.4,337.7 776.2,326.6 777.0,337.7 777.8,328.2 778.6,338.1 779.4,328.0 780.2,338.0 781.0,326.9 781.9,338.0 782.7,328.2 783.5,338.6 784.3,328.6 785.1,338.4 785.9,328.4 786.7,338.1 787.5,328.4 788.3,338.2 789.1,329.0 789.9,338.2 790.7,329.0 791.5,338.3 792.3,328.8 793.1,338.1 793.9,328.5 794.7,337.9 795.5,328.4 796.3,337.5 797.1,328.3 797.9,337.4 798.7,328.3 799.5,337.5 800.3,327.3 801.1,337.5 801.9,326.3 802.7,337.4 803.5,327.9 804.3,337.6 805.1,328.7 805.9,337.7 806.8,328.3 807.6,338.8 808.4,327.4 809.2,340.2 810.0,327.0 810.8,339.1 811.6,327.7 812.4,337.6 813.2,328.1 814.0,337.4 814.8,328.0 815.6,337.1 816.4,328.2 817.2,337.4 818.0,328.2 818.8,338.8 819.6,327.6 820.4,339.5 821.2,327.0 822.0,338.3 822.8,326.1 823.6,337.5 824.4,327.1 825.2,337.1 826.0,327.6 826.8,337.6 827.6,327.0 828.4,337.8 829.2,328.1 830.0,337.3 830.8,328.1 831.7,337.6 832.5,326.5 833.3,337.7 834.1,326.3 834.9,338.4 835.7,326.5 836.5,338.0 837.3,327.6 838.1,337.5 838.9,328.3 839.7,336.8 840.5,328.5 841.3,336.9 842.1,327.2 842.9,337.5 843.7,326.4 844.5,337.5 845.3,327.6 846.1,337.1 846.9,327.2 847.7,337.2 848.5,326.2 849.3,337.6 850.1,327.8 850.9,339.1 851.7,328.7 852.5,338.5 853.3,327.9 854.1,338.0 854.9,327.9 855.7,337.6 856.6,327.6 857.4,337.8 858.2,327.8 859.0,337.7 859.8,327.6 860.6,337.5 861.4,326.9 862.2,338.4 863.0,327.8 863.8,340.6 864.6,328.3 865.4,340.3 866.2,328.2 867.0,339.6 867.8,327.9 868.6,338.1 869.4,327.4 870.2,338.2 871.0,327.9 871.8,338.5 872.6,328.3 873.4,337.7 874.2,328.9 875.0,338.2 875.8,328.8 876.6,339.9 877.4,328.4 878.2,339.2 879.0,327.4 879.8,337.8 880.6,327.6 881.4,337.6 882.3,328.7 883.1,338.1 883.9,328.5 884.7,338.4 885.5,328.3 886.3,338.3 887.1,329.0 887.9,338.4 888.7,328.9 889.5,338.1 890.3,329.1 891.1,338.6 891.9,329.1 892.7,338.9 893.5,328.6 894.3,337.9 895.1,327.5 895.9,337.9 896.7,328.8 897.5,338.6 898.3,328.4 899.1,338.7 899.9,326.8 900.7,339.1 901.5,327.3 902.3,340.0 903.1,328.6 903.9,339.1 904.7,329.3 905.5,337.9 906.3,329.3 907.2,337.9 908.0,329.3 908.8,337.8 909.6,329.2 910.4,338.0 911.2,328.9 912.0,338.4 912.8,329.3 913.6,338.8 914.4,329.3 915.2,338.3 916.0,329.4 916.8,338.5 917.6,329.0 918.4,338.6 919.2,328.8 920.0,338.4 920.8,329.4 921.6,337.9 922.4,327.5 923.2,337.7 924.0,326.6 924.8,337.5 925.6,326.7 926.4,337.5 927.2,327.3 928.0,337.2 928.8,327.6 929.6,338.2 930.4,327.9 931.2,339.4 932.1,328.1 932.9,338.6 933.7,328.3 934.5,337.7 935.3,328.7 936.1,337.9 936.9,328.9 937.7,337.8 938.5,328.8 939.3,337.8 940.1,328.4 940.9,337.7 941.7,327.9 942.5,337.5 943.3,327.9 944.1,337.1"/>
</g>
<rect x="690.6" y="11.0" width="251.69999999999993" height="150.5" fill="#fff" stroke="#3a3a3a" stroke-width="1.4"/>
<line x1="698" y1="32.6" x2="776" y2="32.6" stroke="#0000ff" stroke-width="5"/>
<text transform="translate(781.8,43.4) scale(1.016,1)" class="lg">P&amp;O</text>
<line x1="698" y1="68.8" x2="776" y2="68.8" stroke="#ff0000" stroke-width="5"/>
<text transform="translate(781.8,79.5) scale(1.016,1)" class="lg">Fuzzy</text>
<line x1="698" y1="104.9" x2="776" y2="104.9" stroke="#00ff00" stroke-width="5"/>
<text transform="translate(781.8,115.7) scale(1.016,1)" class="lg">Fuzzy-GA</text>
<line x1="698" y1="141.0" x2="776" y2="141.0" stroke="#a2142f" stroke-width="5"/>
<text transform="translate(781.8,151.8) scale(1.016,1)" class="lg">Fuzzy-PSO</text>
<text transform="translate(97.1,685.5) scale(1.042,1)" text-anchor="middle" class="tk">0</text>
<text transform="translate(202.9,685.5) scale(1.042,1)" text-anchor="middle" class="tk">0.2</text>
<text transform="translate(308.8,685.5) scale(1.042,1)" text-anchor="middle" class="tk">0.4</text>
<text transform="translate(414.6,685.5) scale(1.042,1)" text-anchor="middle" class="tk">0.6</text>
<text transform="translate(520.5,685.5) scale(1.042,1)" text-anchor="middle" class="tk">0.8</text>
<text transform="translate(626.3,685.5) scale(1.042,1)" text-anchor="middle" class="tk">1</text>
<text transform="translate(732.1,685.5) scale(1.042,1)" text-anchor="middle" class="tk">1.2</text>
<text transform="translate(838.0,685.5) scale(1.042,1)" text-anchor="middle" class="tk">1.4</text>
<text transform="translate(943.8,685.5) scale(1.042,1)" text-anchor="middle" class="tk">1.6</text>
<text transform="translate(86.1,656.7) scale(1.045,1)" text-anchor="end" class="tk">0</text>
<text transform="translate(86.1,593.1) scale(1.045,1)" text-anchor="end" class="tk">10</text>
<text transform="translate(86.1,529.5) scale(1.045,1)" text-anchor="end" class="tk">20</text>
<text transform="translate(86.1,465.9) scale(1.045,1)" text-anchor="end" class="tk">30</text>
<text transform="translate(86.1,402.3) scale(1.045,1)" text-anchor="end" class="tk">40</text>
<text transform="translate(86.1,338.7) scale(1.045,1)" text-anchor="end" class="tk">50</text>
<text transform="translate(86.1,275.1) scale(1.045,1)" text-anchor="end" class="tk">60</text>
<text transform="translate(86.1,211.5) scale(1.045,1)" text-anchor="end" class="tk">70</text>
<text transform="translate(86.1,147.9) scale(1.045,1)" text-anchor="end" class="tk">80</text>
<text transform="translate(86.1,84.3) scale(1.045,1)" text-anchor="end" class="tk">90</text>
<text transform="translate(86.1,20.7) scale(1.045,1)" text-anchor="end" class="tk">100</text>
<text transform="translate(519.8,725.5) scale(1.066,1)" text-anchor="middle" class="lb">Time (s)</text>
<text transform="translate(23.9,328.2) rotate(-90)" text-anchor="middle" class="yl" letter-spacing="0.15"><tspan letter-spacing="0.7">Torque</tspan> (N.m)</text>
</svg>
</body></html>
